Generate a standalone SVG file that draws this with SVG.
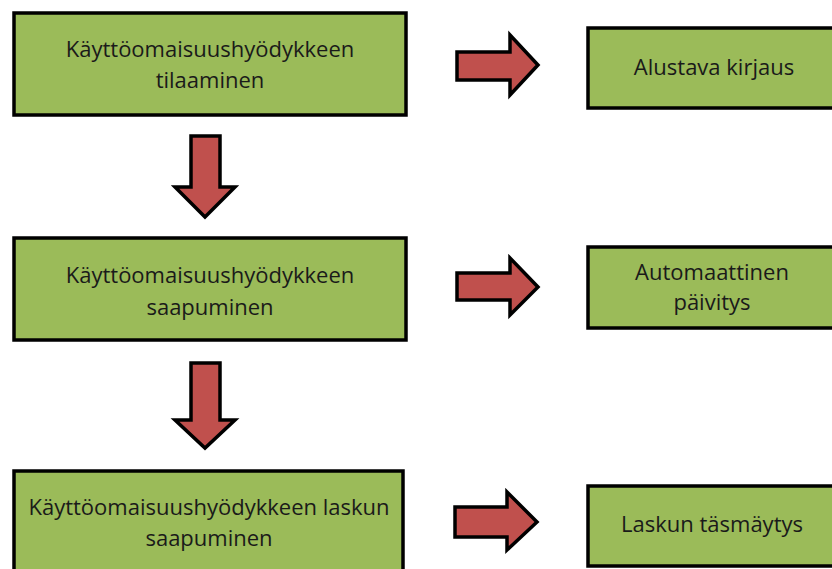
<svg xmlns="http://www.w3.org/2000/svg" width="832" height="569" viewBox="0 0 832 569">
  <style>
    .box { fill: #9BBB59; stroke: #000; stroke-width: 3.5; }
    .arrow { fill: #C0504D; stroke: #000; stroke-width: 3.5; stroke-linejoin: miter; }
    .label { font-family: "Open Sans", "Liberation Sans", sans-serif; font-size: 22px; fill: #1a1a1a; text-anchor: middle; }
  </style>
  <rect width="832" height="569" fill="#fff"/>

  <g id="connectors">
    <!-- down arrows between the left steps -->
    <path class="arrow" d="M191,136 H220 V187 H235 L205,217 L175,187 H191 Z"/>
    <path class="arrow" d="M191,363 H220 V420 H235 L205,448 L175,420 H191 Z"/>
    <!-- right arrows towards the result boxes -->
    <path class="arrow" d="M457,52 H510 V35 L538,65 L510,95 V80 H457 Z"/>
    <path class="arrow" d="M457,273 H510 V258 L538,287 L510,315 V300 H457 Z"/>
    <path class="arrow" d="M455,507 H507 V492 L537,522 L507,550 V537 H455 Z"/>
  </g>

  <g id="step-order">
    <rect class="box" x="14" y="13" width="392" height="102"/>
    <text class="label" x="210" y="57">Käyttöomaisuushyödykkeen</text>
    <text class="label" x="210" y="88">tilaaminen</text>
  </g>

  <g id="step-arrival">
    <rect class="box" x="14" y="238" width="392" height="102"/>
    <text class="label" x="210" y="283">Käyttöomaisuushyödykkeen</text>
    <text class="label" x="210" y="315">saapuminen</text>
  </g>

  <g id="step-invoice">
    <rect class="box" x="14" y="471" width="389" height="110"/>
    <text class="label" x="209" y="515">Käyttöomaisuushyödykkeen laskun</text>
    <text class="label" x="209" y="546">saapuminen</text>
  </g>

  <g id="result-preliminary">
    <rect class="box" x="588" y="28" width="252" height="80"/>
    <text class="label" x="714" y="75">Alustava kirjaus</text>
  </g>

  <g id="result-update">
    <rect class="box" x="588" y="247" width="252" height="81"/>
    <text class="label" x="712" y="280">Automaattinen</text>
    <text class="label" x="712" y="310">päivitys</text>
  </g>

  <g id="result-matching">
    <rect class="box" x="588" y="486" width="252" height="80"/>
    <text class="label" x="712" y="532">Laskun täsmäytys</text>
  </g>
</svg>
